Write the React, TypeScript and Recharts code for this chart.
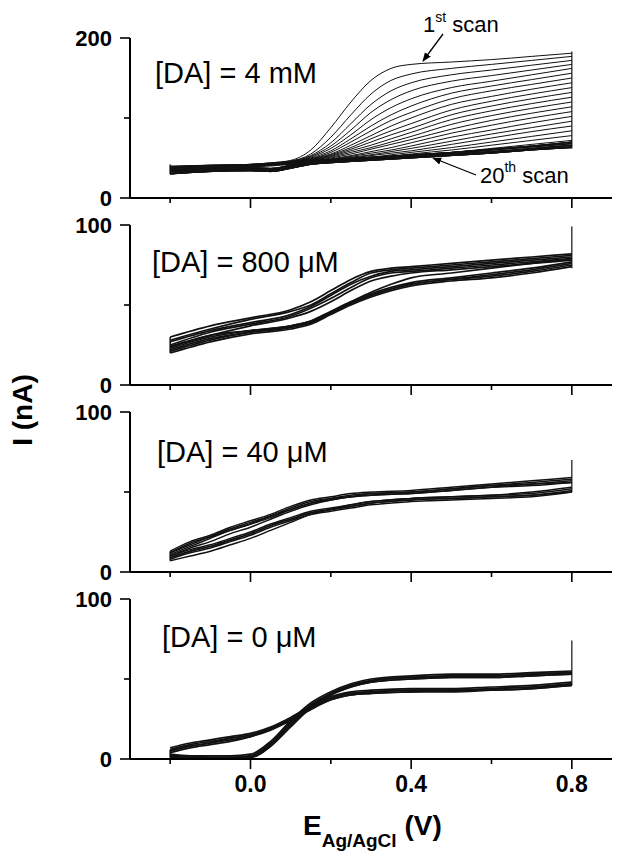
import { LineChart, Line, XAxis, YAxis } from "recharts";

const FONT = "'Liberation Sans', Arial, Helvetica, sans-serif";

// potential axis, V vs Ag/AgCl
const E_TICKS = [-0.2, 0, 0.2, 0.4, 0.6, 0.8];
const E_LABELED = [0, 0.4, 0.8];

// ---- [DA] = 4 mM : 20 scans, forward branches fan out, reverse branches stay low
const E_FWD_4MM = [-0.2, -0.1, 0, 0.05, 0.1, 0.15, 0.2, 0.25, 0.3, 0.35, 0.4, 0.5, 0.6, 0.7, 0.8];
const I_FWD_4MM = [
  [40, 41, 42, 44, 47, 60, 88, 120, 147, 162, 167, 170, 173, 177, 181],
  [39, 41, 42, 44, 46, 55, 76, 104, 130, 147, 155, 162, 167, 172, 177],
  [39, 41, 42, 43, 46, 53, 69, 93, 117, 134, 144, 154, 160, 166, 172],
  [38, 40, 42, 43, 46, 52, 65, 85, 107, 123, 134, 146, 153, 160, 167],
  [38, 40, 42, 43, 45, 51, 62, 79, 98, 113, 124, 138, 146, 154, 162],
  [38, 40, 41, 43, 45, 50, 59, 74, 90, 104, 115, 131, 140, 148, 156],
  [37, 40, 41, 43, 45, 49, 57, 70, 84, 97, 107, 124, 134, 142, 150],
  [37, 39, 41, 43, 45, 49, 55, 66, 78, 90, 100, 117, 127, 136, 144],
  [37, 39, 41, 42, 45, 48, 54, 63, 74, 84, 93, 110, 121, 130, 138],
  [36, 39, 41, 42, 44, 48, 53, 61, 70, 79, 87, 104, 115, 124, 132],
  [36, 39, 41, 42, 44, 47, 52, 59, 66, 74, 82, 98, 109, 118, 126],
  [36, 38, 40, 42, 44, 47, 51, 57, 63, 70, 77, 92, 103, 112, 120],
  [35, 38, 40, 42, 44, 46, 50, 55, 61, 67, 73, 86, 97, 106, 114],
  [35, 38, 40, 42, 44, 46, 49, 53, 58, 63, 69, 81, 91, 100, 108],
  [35, 38, 40, 41, 43, 46, 48, 52, 56, 60, 65, 76, 85, 94, 102],
  [34, 37, 40, 41, 43, 45, 48, 51, 54, 58, 62, 71, 80, 88, 96],
  [34, 37, 39, 41, 43, 45, 47, 50, 53, 56, 59, 67, 75, 83, 90],
  [34, 37, 39, 41, 43, 45, 47, 49, 51, 54, 57, 63, 70, 77, 84],
  [33, 36, 39, 41, 43, 44, 46, 48, 50, 52, 55, 60, 66, 72, 78],
  [33, 36, 39, 40, 42, 44, 46, 47, 49, 51, 53, 57, 62, 67, 72],
];
const E_REV_4MM = [0.8, 0.7, 0.6, 0.5, 0.4, 0.3, 0.2, 0.15, 0.1, 0.05, 0, -0.1, -0.2];
const I_REV_4MM = [
  [66, 62, 58, 55, 52, 49, 46, 44, 39, 35, 36, 35, 33],
  [68, 64, 60, 56, 53, 50, 47, 45, 40, 36, 37, 36, 34],
  [64, 61, 57, 54, 51, 48, 45, 43, 38, 34, 35, 34, 31],
  [70, 65, 61, 57, 54, 51, 48, 46, 41, 37, 38, 37, 35],
  [63, 60, 56, 53, 50, 47, 44, 42, 37, 33, 34, 33, 30],
];
const SWITCH_LO_4MM = [30, 42]; // vertical span at -0.2 V
const SWITCH_HI_4MM = [62, 183]; // vertical span at 0.8 V

// ---- [DA] = 800 uM
const E_FWD_800 = [-0.2, -0.1, 0, 0.1, 0.15, 0.2, 0.25, 0.3, 0.35, 0.4, 0.5, 0.6, 0.7, 0.8];
const I_FWD_800 = [
  [30, 37, 42, 47, 52, 59, 66, 71, 73, 74, 76, 78, 80, 82],
  [28, 35, 41, 46, 50, 57, 64, 70, 72, 73, 75, 77, 79, 81],
  [27, 34, 39, 44, 49, 56, 63, 68, 71, 72, 74, 76, 78, 80],
  [25, 33, 38, 43, 48, 54, 61, 67, 70, 71, 73, 75, 77, 79],
  [24, 31, 37, 42, 46, 52, 59, 65, 68, 70, 72, 74, 76, 78],
];
const E_REV_800 = [0.8, 0.7, 0.6, 0.5, 0.4, 0.35, 0.3, 0.25, 0.2, 0.15, 0.1, 0, -0.1, -0.2];
const I_REV_800 = [
  [77, 73, 70, 67, 64, 61, 57, 52, 46, 40, 37, 34, 31, 24],
  [76, 72, 69, 66, 63, 60, 56, 51, 45, 39, 36, 33, 29, 22],
  [75, 71, 68, 66, 63, 60, 56, 51, 45, 39, 36, 33, 28, 21],
  [74, 70, 67, 65, 62, 59, 55, 50, 44, 38, 35, 32, 27, 20],
  [79, 76, 73, 70, 67, 63, 58, 52, 46, 40, 37, 34, 30, 23],
];
const SWITCH_LO_800 = [20, 30];
const SWITCH_HI_800 = [73, 99];

// ---- [DA] = 40 uM
const E_FWD_40 = [-0.2, -0.15, -0.1, -0.05, 0, 0.05, 0.1, 0.15, 0.2, 0.25, 0.3, 0.4, 0.5, 0.6, 0.7, 0.8];
const I_FWD_40 = [
  [13, 19, 23, 28, 32, 36, 41, 45, 47, 49, 50, 51, 53, 55, 57, 59],
  [12, 18, 22, 27, 31, 35, 40, 44, 46, 48, 49, 50, 52, 54, 56, 58],
  [12, 17, 22, 26, 30, 35, 39, 43, 46, 47, 49, 50, 52, 54, 55, 57],
  [11, 16, 21, 26, 30, 34, 39, 43, 45, 47, 48, 49, 51, 53, 55, 56],
  [10, 15, 19, 24, 28, 33, 38, 42, 45, 47, 48, 49, 51, 53, 54, 56],
];
const E_REV_40 = [0.8, 0.7, 0.6, 0.5, 0.4, 0.3, 0.25, 0.2, 0.15, 0.1, 0.05, 0, -0.05, -0.1, -0.15, -0.2];
const I_REV_40 = [
  [52, 49, 48, 47, 46, 44, 42, 40, 38, 34, 30, 25, 21, 17, 14, 10],
  [51, 48, 47, 46, 45, 43, 41, 39, 37, 33, 29, 24, 20, 16, 13, 9],
  [50, 48, 47, 46, 45, 43, 41, 39, 37, 33, 29, 24, 20, 16, 13, 9],
  [50, 47, 46, 45, 44, 42, 40, 38, 36, 32, 28, 23, 19, 15, 12, 8],
  [53, 50, 48, 47, 46, 44, 42, 39, 36, 31, 26, 21, 17, 13, 10, 7],
];
const SWITCH_LO_40 = [7, 13];
const SWITCH_HI_40 = [50, 70];

// ---- [DA] = 0 uM
const E_FWD_0 = [-0.2, -0.15, -0.1, -0.05, 0, 0.05, 0.1, 0.15, 0.2, 0.25, 0.3, 0.4, 0.5, 0.6, 0.7, 0.8];
const I_FWD_0 = [
  [3, 2, 2, 2, 3, 11, 24, 35, 42, 47, 50, 52, 53, 53, 54, 55],
  [2, 2, 1, 1, 2, 10, 23, 34, 41, 46, 49, 51, 52, 52, 53, 54],
  [2, 1, 1, 1, 2, 9, 22, 33, 41, 46, 49, 51, 52, 52, 53, 54],
  [1, 1, 0, 1, 1, 8, 21, 32, 40, 45, 48, 50, 51, 51, 52, 53],
  [1, 0, 0, 0, 1, 8, 20, 32, 40, 45, 48, 50, 51, 51, 52, 53],
];
const E_REV_0 = [0.8, 0.7, 0.6, 0.5, 0.4, 0.3, 0.25, 0.2, 0.15, 0.1, 0.05, 0, -0.05, -0.1, -0.15, -0.2];
const I_REV_0 = [
  [48, 46, 45, 44, 44, 43, 42, 39, 33, 26, 20, 16, 14, 12, 10, 7],
  [47, 45, 44, 43, 43, 42, 41, 38, 32, 25, 19, 15, 13, 11, 9, 6],
  [47, 45, 44, 43, 43, 42, 41, 38, 32, 25, 19, 15, 13, 10, 8, 5],
  [46, 44, 43, 42, 42, 41, 40, 37, 31, 24, 18, 14, 12, 10, 8, 5],
  [46, 44, 43, 43, 42, 41, 40, 37, 31, 24, 19, 14, 11, 9, 7, 4],
];
const SWITCH_LO_0 = [0, 6];
const SWITCH_HI_0 = [46, 74];

const E_START = -0.2;
const E_END = 0.8;

type PanelData = {
  yMax: number;
  yTicks: number[];
  eFwd: number[];
  iFwd: number[][];
  eRev: number[];
  iRev: number[][];
  lo: number[];
  hi: number[];
  width: number;
};

const PANELS: PanelData[] = [
  { yMax: 200, yTicks: [0, 100, 200], eFwd: E_FWD_4MM, iFwd: I_FWD_4MM, eRev: E_REV_4MM, iRev: I_REV_4MM, lo: SWITCH_LO_4MM, hi: SWITCH_HI_4MM, width: 1 },
  { yMax: 100, yTicks: [0, 50, 100], eFwd: E_FWD_800, iFwd: I_FWD_800, eRev: E_REV_800, iRev: I_REV_800, lo: SWITCH_LO_800, hi: SWITCH_HI_800, width: 1.7 },
  { yMax: 100, yTicks: [0, 50, 100], eFwd: E_FWD_40, iFwd: I_FWD_40, eRev: E_REV_40, iRev: I_REV_40, lo: SWITCH_LO_40, hi: SWITCH_HI_40, width: 1.5 },
  { yMax: 100, yTicks: [0, 50, 100], eFwd: E_FWD_0, iFwd: I_FWD_0, eRev: E_REV_0, iRev: I_REV_0, lo: SWITCH_LO_0, hi: SWITCH_HI_0, width: 1.7 },
];

const PLOT_TOPS = [38, 225, 412, 599];
const PLOT_H = 160;

const pts = (es: number[], is: number[]) => es.map((e, k) => ({ e, i: is[k] }));

function XTick(props: any) {
  const { x, y, payload, showLabel } = props;
  const major = E_LABELED.includes(payload.value);
  return (
    <g>
      <line x1={x} x2={x} y1={y} y2={y + (major ? 10 : 5)} stroke="#000" strokeWidth={1.6} />
      {showLabel && major && (
        <text x={x} y={y + 33} textAnchor="middle" fontFamily={FONT} fontWeight="bold" fontSize={23} fill="#000">
          {payload.value.toFixed(1)}
        </text>
      )}
    </g>
  );
}

function YTick(props: any) {
  const { x, y, payload, mid } = props;
  const major = payload.value !== mid;
  return (
    <g>
      <line x1={x - (major ? 10 : 6)} x2={x} y1={y} y2={y} stroke="#000" strokeWidth={1.6} />
      {major && (
        <text x={x - 18} y={y} dy="0.36em" textAnchor="end" fontFamily={FONT} fontWeight="bold" fontSize={22} fill="#000">
          {payload.value}
        </text>
      )}
    </g>
  );
}

function CVPanel({ p, top, bottom }: { p: PanelData; top: number; bottom: boolean }) {
  const xh = bottom ? 50 : 20;
  return (
    <div style={{ position: "absolute", left: 0, top: top - 20 }}>
      <LineChart width={624} height={20 + PLOT_H + xh} margin={{ top: 20, right: 12, bottom: 0, left: 0 }}>
        <XAxis
          type="number"
          dataKey="e"
          domain={[-0.3, 0.9]}
          ticks={E_TICKS}
          allowDataOverflow
          height={xh}
          tickSize={0}
          tickMargin={0}
          tickLine={false}
          axisLine={{ stroke: "#000", strokeWidth: 2 }}
          tick={(tp: any) => <XTick {...tp} showLabel={bottom} />}
        />
        <YAxis
          type="number"
          domain={[0, p.yMax]}
          ticks={p.yTicks}
          allowDataOverflow
          width={130}
          tickSize={0}
          tickMargin={0}
          tickLine={false}
          axisLine={{ stroke: "#000", strokeWidth: 2 }}
          tick={(tp: any) => <YTick {...tp} mid={p.yTicks[1]} />}
        />
        {p.iFwd.map((row, k) => (
          <Line
            key={"f" + k}
            data={pts(p.eFwd, row)}
            dataKey="i"
            type="monotone"
            dot={false}
            stroke="#111"
            strokeWidth={p.width}
            isAnimationActive={false}
          />
        ))}
        {p.iFwd.map((_, k) => (
          <Line
            key={"r" + k}
            data={pts(p.eRev, p.iRev[k % p.iRev.length])}
            dataKey="i"
            type="monotone"
            dot={false}
            stroke="#111"
            strokeWidth={p.width}
            isAnimationActive={false}
          />
        ))}
        <Line data={pts([E_START, E_START], p.lo)} dataKey="i" type="linear" dot={false} stroke="#111" strokeWidth={1.5} isAnimationActive={false} />
        <Line data={pts([E_END, E_END], p.hi)} dataKey="i" type="linear" dot={false} stroke="#111" strokeWidth={1.2} isAnimationActive={false} />
      </LineChart>
    </div>
  );
}

const PANEL_LABELS = ["[DA] = 4 mM", "[DA] = 800 μM", "[DA] = 40 μM", "[DA] = 0 μM"];

export default function App() {
  return (
    <div style={{ position: "absolute", left: 0, top: 0, width: 624, height: 864, background: "#fff" }}>
      {PANELS.map((p, k) => (
        <CVPanel key={k} p={p} top={PLOT_TOPS[k]} bottom={k === PANELS.length - 1} />
      ))}
      <svg width={624} height={864} style={{ position: "absolute", left: 0, top: 0, pointerEvents: "none" }}>
        <defs>
          <marker id="ah" viewBox="0 0 10 10" refX="9" refY="5" markerWidth="7" markerHeight="7" orient="auto">
            <path d="M0,1 L10,5 L0,9 z" fill="#000" />
          </marker>
        </defs>
        {PANEL_LABELS.map((t, k) => (
          <text key={t} x={[155, 152, 157, 162][k]} y={PLOT_TOPS[k] + [45, 47, 50, 48][k]} fontFamily={FONT} fontSize={29} fill="#000">
            {t}
          </text>
        ))}
        <text x={423} y={32} fontFamily={FONT} fontSize={22} fill="#000">
          1<tspan fontSize={14} dy={-10}>st</tspan>
          <tspan dy={10}> scan</tspan>
        </text>
        <line x1={443} y1={34} x2={423} y2={61} stroke="#000" strokeWidth={1.3} markerEnd="url(#ah)" />
        <text x={480} y={183} fontFamily={FONT} fontSize={22} fill="#000">
          20<tspan fontSize={14} dy={-11}>th</tspan>
          <tspan dy={11}> scan</tspan>
        </text>
        <line x1={476} y1={175} x2={433} y2={158} stroke="#000" strokeWidth={1.3} markerEnd="url(#ah)" />
        <text
          x={0}
          y={0}
          transform="translate(32 410) rotate(-90)"
          textAnchor="middle"
          fontFamily={FONT}
          fontWeight="bold"
          fontSize={28}
          fill="#000"
        >
          I (nA)
        </text>
        <text x={303} y={835} fontFamily={FONT} fontWeight="bold" fontSize={28} fill="#000">
          E<tspan fontSize={19} dy={12}>Ag/AgCl</tspan>
          <tspan dy={-12}> (V)</tspan>
        </text>
      </svg>
    </div>
  );
}
